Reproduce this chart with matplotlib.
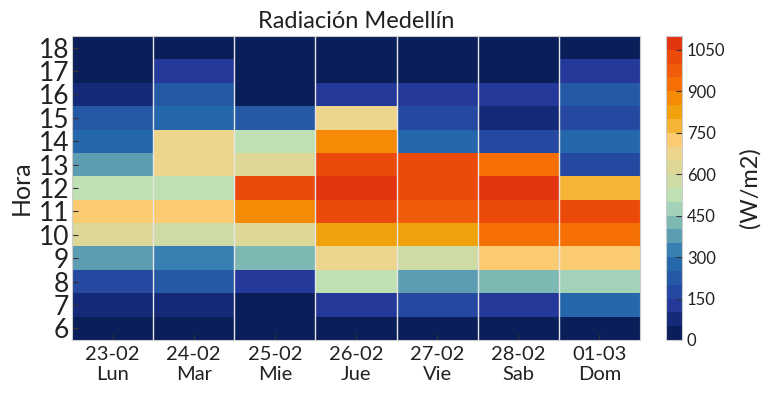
import numpy as np
import matplotlib
matplotlib.use("Agg")
import matplotlib.pyplot as plt
from matplotlib.colors import ListedColormap, BoundaryNorm

days = ["23-02\nLun", "24-02\nMar", "25-02\nMie", "26-02\nJue", "27-02\nVie", "28-02\nSab", "01-03\nDom"]
hours = [6, 7, 8, 9, 10, 11, 12, 13, 14, 15, 16, 17, 18]

# radiation (W/m2), rows = hours 6..18, per day
lun = [25, 75, 175, 375, 625, 725, 525, 375, 275, 225, 75, 25, 25]
mar = [25, 75, 225, 325, 575, 725, 525, 675, 675, 275, 225, 125, 25]
mie = [25, 25, 125, 425, 625, 875, 1025, 625, 525, 225, 25, 25, 25]
jue = [25, 125, 525, 675, 825, 1025, 1075, 1025, 875, 675, 125, 25, 25]
vie = [25, 175, 375, 575, 825, 975, 1025, 1025, 275, 175, 125, 25, 25]
sab = [25, 125, 425, 725, 925, 1025, 1075, 925, 175, 75, 125, 25, 25]
dom = [25, 275, 475, 725, 925, 1025, 775, 175, 275, 175, 225, 125, 25]

data = np.array([lun, mar, mie, jue, vie, sab, dom]).T

colors = ["#0a1e5a", "#142a78", "#25399a", "#2549a0", "#2558a5", "#2468ab",
          "#3880b2", "#5c9db1", "#7db8b3", "#a2d3b8", "#bfe0b2", "#cfdba5",
          "#ddd898", "#eed58e", "#fbcb72", "#f5b436", "#f0a10c", "#f48a06",
          "#f56f05", "#f15c0a", "#ec4a0a", "#e33410"]
cmap = ListedColormap(colors)
bounds = np.arange(0, 1101, 50)
norm = BoundaryNorm(bounds, cmap.N)

plt.rcParams['font.family'] = ['Lato', 'DejaVu Sans']
fig = plt.figure(figsize=(7.67, 3.95), dpi=100)
ax = fig.add_axes([72/767, 1-340/395, 568/767, 304/395])
cax = fig.add_axes([666/767, 1-340/395, 16/767, 304/395])

x = np.arange(len(days) + 1) - 0.5
y = np.arange(len(hours) + 1) - 0.5
mesh = ax.pcolormesh(x, y, data, cmap=cmap, norm=norm)
for xv in x[1:-1]:
    ax.axvline(xv, color="#e6e6e6", lw=1)

ax.set_xticks(np.arange(len(days)))
ax.set_xticklabels(days, fontsize=14.5, color="#222222", linespacing=1.25)
ax.set_yticks(np.arange(len(hours)))
ax.set_yticklabels([str(h) for h in hours], fontsize=19, color="#222222")
ax.tick_params(direction="in", length=4, color="#333333", pad=4)
ax.tick_params(axis="y", pad=2)
ax.set_ylabel("Hora", fontsize=18, color="#222222", labelpad=4)
ax.set_title("Radiación Medellín", fontsize=17, color="#222222", pad=6)
for s in ax.spines.values():
    s.set_color("#cccccc")

cb = fig.colorbar(mesh, cax=cax, ticks=np.arange(0, 1051, 150))
cb.ax.minorticks_off()
cb.ax.tick_params(which="major", direction="in", length=4, color="#333333", labelsize=12, labelcolor="#222222")
cb.ax.tick_params(which="minor", length=0)
cb.outline.set_edgecolor("#cccccc")
cb.set_label("(W/m2)", fontsize=17, color="#222222", labelpad=10)

fig.savefig("out.png", dpi=100)
